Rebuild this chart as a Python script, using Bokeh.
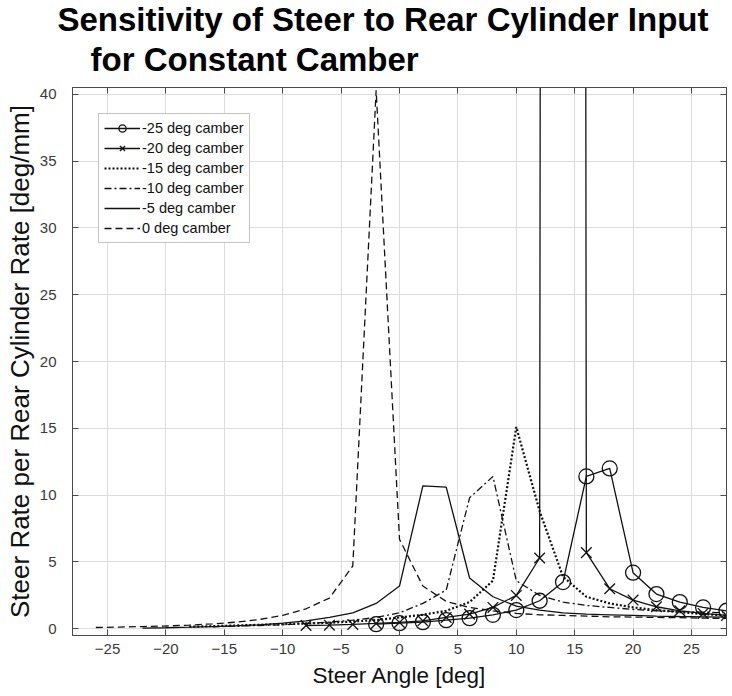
from bokeh.plotting import figure
from bokeh.models import Range1d, LinearAxis, FixedTicker, Title, Legend, LegendItem
from bokeh.embed import file_html
from bokeh.resources import INLINE

# Steer angle [deg] and steer rate per rear cylinder rate [deg/mm] for each camber setting
angle_cam25 = [-2, 0, 2, 4, 6, 8, 10, 12, 14, 16, 18, 20, 22, 24, 26, 28]
rate_cam25 = [0.35, 0.42, 0.5, 0.65, 0.8, 1.05, 1.4, 2.1, 3.5, 11.4, 12.0, 4.2, 2.6, 2.0, 1.6, 1.35]

angle_cam20 = [-8, -6, -4, -2, 0, 2, 4, 6, 8, 10, 12, 14, 16, 18, 20, 22, 24, 26, 28]
rate_cam20 = [0.25, 0.27, 0.33, 0.4, 0.48, 0.6, 0.85, 1.1, 1.6, 2.5, 5.3, 1500.0, 5.7, 3.0, 2.15, 1.65, 1.35, 1.15, 1.0]

angle_cam15 = [-18, -16, -14, -12, -10, -8, -6, -4, -2, 0, 2, 4, 6, 8, 10, 12, 14, 16, 18, 20, 22, 24, 26, 28]
rate_cam15 = [0.15, 0.2, 0.25, 0.3, 0.35, 0.4, 0.45, 0.55, 0.65, 0.85, 1.05, 1.35, 2.0, 3.6, 15.1, 8.8, 3.9, 2.4, 1.9, 1.6, 1.4, 1.25, 1.1, 1.0]

angle_cam10 = [-16, -14, -12, -10, -8, -6, -4, -2, 0, 2, 4, 6, 8, 10, 12, 14, 16, 18, 20, 22, 24, 26, 28]
rate_cam10 = [0.15, 0.2, 0.25, 0.3, 0.4, 0.5, 0.65, 0.85, 1.2, 1.9, 2.9, 9.8, 11.4, 3.6, 2.5, 2.0, 1.75, 1.6, 1.45, 1.35, 1.3, 1.25, 1.2]

angle_cam5 = [-22, -20, -18, -16, -14, -12, -10, -8, -6, -4, -2, 0, 2, 4, 6, 8, 10, 12, 14, 16, 18, 20, 22, 24, 26, 28]
rate_cam5 = [0.05, 0.08, 0.12, 0.17, 0.22, 0.3, 0.42, 0.6, 0.85, 1.2, 1.9, 3.2, 10.7, 10.6, 3.8, 2.4, 1.7, 1.4, 1.2, 1.1, 1.05, 1.0, 0.95, 0.92, 0.9, 0.88]

angle_cam0 = [-26, -24, -22, -20, -18, -16, -14, -12, -10, -8, -6, -4, -2, 0, 2, 4, 6, 8, 10, 12, 14, 16, 18, 20, 22, 24, 26, 28]
rate_cam0 = [0.1, 0.13, 0.17, 0.21, 0.28, 0.37, 0.5, 0.7, 1.0, 1.5, 2.3, 4.7, 40.3, 6.7, 3.2, 2.05, 1.6, 1.35, 1.15, 1.05, 1.0, 0.95, 0.9, 0.88, 0.85, 0.83, 0.8, 0.78]

x_ticks = [-25, -20, -15, -10, -5, 0, 5, 10, 15, 20, 25]
y_ticks = [0, 5, 10, 15, 20, 25, 30, 35, 40]

FONT = "Liberation Sans"
INK = "#111111"
AXIS = "#4a4a4a"

p = figure(width=732, height=696, output_backend="svg", toolbar_location=None,
           x_range=Range1d(-28, 28), y_range=Range1d(-0.5, 40.5),
           min_border_left=72, min_border_right=6, min_border_top=87, min_border_bottom=61,
           x_axis_label="Steer Angle [deg]",
           y_axis_label="Steer Rate per Rear Cylinder Rate [deg/mm]")
p.title = None
p.background_fill_color = "white"
p.border_fill_color = "white"
p.outline_line_color = AXIS
p.outline_line_width = 1

for ax, ticks in ((p.xaxis[0], x_ticks), (p.yaxis[0], y_ticks)):
    ax.ticker = FixedTicker(ticks=ticks)
    ax.major_tick_in = 6
    ax.major_tick_out = 0
    ax.minor_tick_in = 0
    ax.minor_tick_out = 0
    ax.axis_line_color = AXIS
    ax.major_tick_line_color = AXIS
    ax.major_label_text_font = FONT
    ax.major_label_text_font_size = "15px"
    ax.major_label_text_color = "#3a3a3a"
    ax.axis_label_text_font = FONT
    ax.axis_label_text_font_style = "normal"
    ax.axis_label_text_color = INK

p.xaxis[0].axis_label_text_font_size = "22.5px"
p.yaxis[0].axis_label_text_font_size = "26px"
p.xaxis[0].major_label_standoff = 8
p.xaxis[0].axis_label_standoff = 6
p.yaxis[0].major_label_standoff = 16
p.yaxis[0].axis_label_standoff = 2

# mirrored inward ticks on the top and right edges, without labels
for side, ticks in (("above", x_ticks), ("right", y_ticks)):
    ax = LinearAxis(ticker=FixedTicker(ticks=ticks), major_tick_in=6, major_tick_out=0,
                    minor_tick_in=0, minor_tick_out=0, axis_line_color=AXIS,
                    major_tick_line_color=AXIS, major_label_text_font_size="10px",
                    major_label_overrides={t: "" for t in ticks},
                    major_label_standoff=0)
    p.add_layout(ax, side)

p.xgrid.ticker = FixedTicker(ticks=x_ticks)
p.ygrid.ticker = FixedTicker(ticks=y_ticks)
p.xgrid.grid_line_color = "#dddddd"
p.ygrid.grid_line_color = "#dddddd"

items = []

l25 = p.line(angle_cam25, rate_cam25, line_color=INK, line_width=1.3)
m25 = p.scatter(angle_cam25, rate_cam25, marker="circle", size=15, fill_color=None,
                line_color=INK, line_width=1.3)
items.append(LegendItem(label="-25 deg camber", renderers=[l25, m25]))

l20 = p.line(angle_cam20, rate_cam20, line_color=INK, line_width=1.3)
m20 = p.scatter(angle_cam20, rate_cam20, marker="x", size=15, line_color=INK, line_width=1.3)
items.append(LegendItem(label="-20 deg camber", renderers=[l20, m20]))

l15 = p.line(angle_cam15, rate_cam15, line_color=INK, line_width=2.2, line_dash="2 2")
items.append(LegendItem(label="-15 deg camber", renderers=[l15]))

l10 = p.line(angle_cam10, rate_cam10, line_color=INK, line_width=1.3, line_dash="7 3 2 3")
items.append(LegendItem(label="-10 deg camber", renderers=[l10]))

l5 = p.line(angle_cam5, rate_cam5, line_color=INK, line_width=1.3)
items.append(LegendItem(label="-5 deg camber", renderers=[l5]))

l0 = p.line(angle_cam0, rate_cam0, line_color=INK, line_width=1.3, line_dash="7 4")
items.append(LegendItem(label="0 deg camber", renderers=[l0]))

legend = Legend(items=items, location="top_left", margin=26, padding=5, spacing=2,
                glyph_width=36, glyph_height=18, label_height=18, label_standoff=2,
                label_text_font=FONT, label_text_font_size="14.5px", label_text_color=INK,
                border_line_color="#8a8a8a", border_line_width=1,
                background_fill_color="white", background_fill_alpha=1.0)
p.add_layout(legend, "center")

# two-line bold heading, nearest line added first
p.add_layout(Title(text="for Constant Camber", text_font=FONT, text_font_size="33px",
                   text_font_style="bold", text_color="black", align="left", offset=18,
                   standoff=19), "above")
p.add_layout(Title(text="Sensitivity of Steer to Rear Cylinder Input", text_font=FONT,
                   text_font_size="33px", text_font_style="bold", text_color="black",
                   align="left", offset=-15, standoff=-16), "above")

open("out.html", "w").write(file_html(p, INLINE))
